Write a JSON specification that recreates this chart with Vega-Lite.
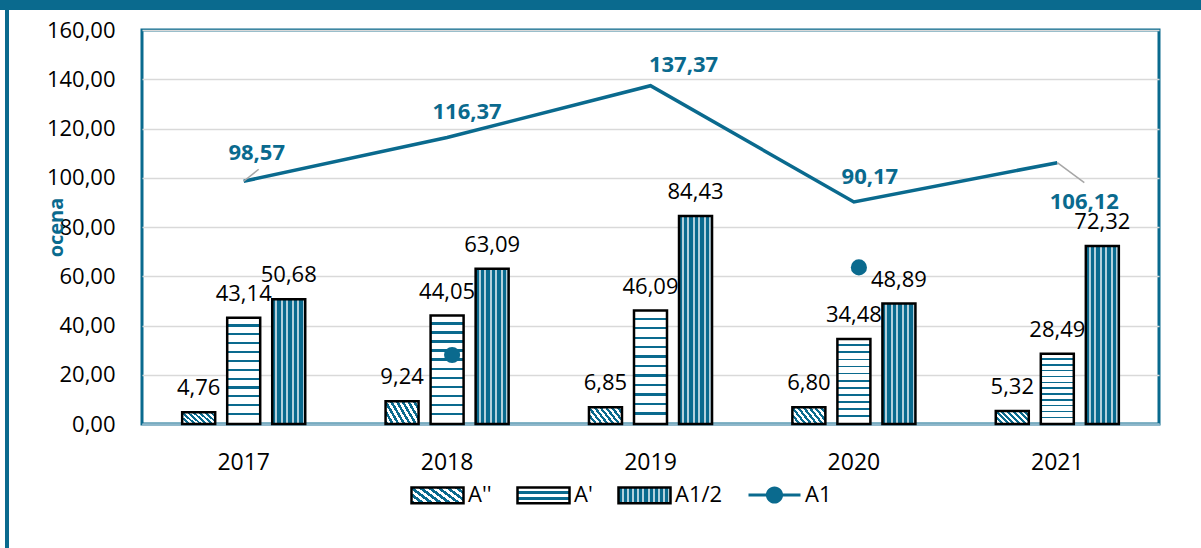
{
  "$schema": "https://vega.github.io/schema/vega-lite/v6.json",
  "padding": 0,
  "background": "white",
  "spacing": 0,
  "config": {
    "locale": {"number": {"decimal": ",", "thousands": " ", "grouping": [3], "currency": ["", " zł"]}},
    "font": "Open Sans",
    "view": {"stroke": null}
  },
  "datasets": {
    "frame": [{"k": 1}],
    "bars": [
      {"year": "2017", "series": "A''", "value": 4.76},
      {"year": "2017", "series": "A'", "value": 43.14},
      {"year": "2017", "series": "A1/2", "value": 50.68},
      {"year": "2018", "series": "A''", "value": 9.24},
      {"year": "2018", "series": "A'", "value": 44.05},
      {"year": "2018", "series": "A1/2", "value": 63.09},
      {"year": "2019", "series": "A''", "value": 6.85},
      {"year": "2019", "series": "A'", "value": 46.09},
      {"year": "2019", "series": "A1/2", "value": 84.43},
      {"year": "2020", "series": "A''", "value": 6.80},
      {"year": "2020", "series": "A'", "value": 34.48},
      {"year": "2020", "series": "A1/2", "value": 48.89},
      {"year": "2021", "series": "A''", "value": 5.32},
      {"year": "2021", "series": "A'", "value": 28.49},
      {"year": "2021", "series": "A1/2", "value": 72.32}
    ],
    "a1": [
      {"year": "2017", "value": 98.57},
      {"year": "2018", "value": 116.37},
      {"year": "2019", "value": 137.37},
      {"year": "2020", "value": 90.17},
      {"year": "2021", "value": 106.12}
    ],
    "markers": [
      {"year": "2018", "value": 28.0},
      {"year": "2020", "value": 63.6}
    ]
  },
  "vconcat": [
    {
      "width": 1201, "height": 10,
      "view": {"fill": "#0a6a8e", "stroke": null},
      "data": {"name": "frame"},
      "mark": {"type": "text", "fontSize": 0},
      "encoding": {"text": {"value": ""}}
    },
    {
      "spacing": 0,
      "resolve": {"scale": {"stroke": "independent"}, "legend": {"stroke": "independent"}},
      "hconcat": [
        {
          "width": 5, "height": 538,
          "data": {"name": "frame"},
          "mark": {"type": "text", "fontSize": 0},
          "encoding": {"text": {"value": ""}}
        },
        {
          "spacing": 35,
          "resolve": {"scale": {"stroke": "independent"}, "legend": {"stroke": "independent"}},
          "hconcat": [
            {
              "width": 4, "height": 538,
              "view": {"fill": "#0a6a8e", "stroke": null},
              "data": {"name": "frame"},
              "mark": {"type": "text", "fontSize": 0},
              "encoding": {"text": {"value": ""}}
            },
            {
              "spacing": 0,
              "resolve": {"scale": {"stroke": "independent"}, "legend": {"stroke": "independent"}},
              "vconcat": [
                {
                  "width": 1, "height": 7,
                  "data": {"name": "frame"},
                  "mark": {"type": "text", "fontSize": 0},
                  "encoding": {"text": {"value": ""}}
                },
                {
                  "width": 1017, "height": 394,
                  "view": {"stroke": "#0a6a8e", "strokeWidth": 3},
                  "layer": [
                    {
                      "data": {"name": "bars"},
                      "mark": {"type": "bar", "stroke": "#000000", "strokeWidth": 2.5},
                      "encoding": {
                        "x": {
                          "field": "year", "type": "nominal",
                          "scale": {"paddingInner": 0.395, "paddingOuter": 0.1975},
                          "axis": {
                            "title": null, "labelAngle": 0, "labelFontSize": 23, "labelColor": "#000000",
                            "ticks": false, "labelPadding": 27, "domainColor": "#8db7cb", "domainWidth": 2.5, "grid": false
                          }
                        },
                        "xOffset": {
                          "field": "series", "type": "nominal",
                          "scale": {"domain": ["A''", "A'", "A1/2"], "paddingInner": 0.267, "paddingOuter": 0}
                        },
                        "y": {
                          "field": "value", "type": "quantitative",
                          "scale": {"domain": [0, 160]},
                          "axis": {
                            "title": "ocena", "titleFontWeight": "bold", "titleFontSize": 20, "titleColor": "#0a6a8e",
                            "titleX": -86, "titleBaseline": "middle",
                            "values": [0, 20, 40, 60, 80, 100, 120, 140, 160], "format": ".2f",
                            "labelFontSize": 22, "labelColor": "#000000", "labelPadding": 27,
                            "ticks": false, "domain": false, "gridColor": "#d9d9d9", "gridWidth": 1.5
                          }
                        },
                        "fill": {
                          "condition": [
                            {"test": "datum.series === \"A'\"", "value": {"gradient": "linear", "x1": 0, "y1": 0, "x2": 0, "y2": 1, "stops": [
                                {"offset": 0, "color": "#ffffff"}, {"offset": 0.0625, "color": "#ffffff"}, {"offset": 0.0625, "color": "#0a6a8e"}, {"offset": 0.0833, "color": "#0a6a8e"},
                                {"offset": 0.0833, "color": "#ffffff"}, {"offset": 0.1458, "color": "#ffffff"}, {"offset": 0.1458, "color": "#0a6a8e"}, {"offset": 0.1667, "color": "#0a6a8e"},
                                {"offset": 0.1667, "color": "#ffffff"}, {"offset": 0.2292, "color": "#ffffff"}, {"offset": 0.2292, "color": "#0a6a8e"}, {"offset": 0.25, "color": "#0a6a8e"},
                                {"offset": 0.25, "color": "#ffffff"}, {"offset": 0.3125, "color": "#ffffff"}, {"offset": 0.3125, "color": "#0a6a8e"}, {"offset": 0.3333, "color": "#0a6a8e"},
                                {"offset": 0.3333, "color": "#ffffff"}, {"offset": 0.3958, "color": "#ffffff"}, {"offset": 0.3958, "color": "#0a6a8e"}, {"offset": 0.4167, "color": "#0a6a8e"},
                                {"offset": 0.4167, "color": "#ffffff"}, {"offset": 0.4792, "color": "#ffffff"}, {"offset": 0.4792, "color": "#0a6a8e"}, {"offset": 0.5, "color": "#0a6a8e"},
                                {"offset": 0.5, "color": "#ffffff"}, {"offset": 0.5625, "color": "#ffffff"}, {"offset": 0.5625, "color": "#0a6a8e"}, {"offset": 0.5833, "color": "#0a6a8e"},
                                {"offset": 0.5833, "color": "#ffffff"}, {"offset": 0.6458, "color": "#ffffff"}, {"offset": 0.6458, "color": "#0a6a8e"}, {"offset": 0.6667, "color": "#0a6a8e"},
                                {"offset": 0.6667, "color": "#ffffff"}, {"offset": 0.7292, "color": "#ffffff"}, {"offset": 0.7292, "color": "#0a6a8e"}, {"offset": 0.75, "color": "#0a6a8e"},
                                {"offset": 0.75, "color": "#ffffff"}, {"offset": 0.8125, "color": "#ffffff"}, {"offset": 0.8125, "color": "#0a6a8e"}, {"offset": 0.8333, "color": "#0a6a8e"},
                                {"offset": 0.8333, "color": "#ffffff"}, {"offset": 0.8958, "color": "#ffffff"}, {"offset": 0.8958, "color": "#0a6a8e"}, {"offset": 0.9167, "color": "#0a6a8e"},
                                {"offset": 0.9167, "color": "#ffffff"}, {"offset": 1, "color": "#ffffff"}
                              ]}},
                            {"test": "datum.series === 'A1/2'", "value": {"gradient": "linear", "x1": 0, "y1": 0, "x2": 1, "y2": 0, "stops": [
                                {"offset": 0, "color": "#0a6a8e"}, {"offset": 0.09, "color": "#0a6a8e"}, {"offset": 0.09, "color": "#b3d0dc"}, {"offset": 0.15, "color": "#b3d0dc"},
                                {"offset": 0.15, "color": "#0a6a8e"}, {"offset": 0.2567, "color": "#0a6a8e"}, {"offset": 0.2567, "color": "#b3d0dc"}, {"offset": 0.3167, "color": "#b3d0dc"},
                                {"offset": 0.3167, "color": "#0a6a8e"}, {"offset": 0.4233, "color": "#0a6a8e"}, {"offset": 0.4233, "color": "#b3d0dc"}, {"offset": 0.4833, "color": "#b3d0dc"},
                                {"offset": 0.4833, "color": "#0a6a8e"}, {"offset": 0.59, "color": "#0a6a8e"}, {"offset": 0.59, "color": "#b3d0dc"}, {"offset": 0.65, "color": "#b3d0dc"},
                                {"offset": 0.65, "color": "#0a6a8e"}, {"offset": 0.7567, "color": "#0a6a8e"}, {"offset": 0.7567, "color": "#b3d0dc"}, {"offset": 0.8167, "color": "#b3d0dc"},
                                {"offset": 0.8167, "color": "#0a6a8e"}, {"offset": 0.9233, "color": "#0a6a8e"}, {"offset": 0.9233, "color": "#b3d0dc"}, {"offset": 0.9833, "color": "#b3d0dc"},
                                {"offset": 0.9833, "color": "#0a6a8e"}, {"offset": 1, "color": "#0a6a8e"}
                              ]}}
                          ],
                          "value": {"gradient": "linear", "x1": 0, "y1": 1, "x2": 1.2, "y2": 0.52, "stops": [
                                {"offset": 0, "color": "#0a6a8e"}, {"offset": 0.0625, "color": "#0a6a8e"}, {"offset": 0.0625, "color": "#ffffff"}, {"offset": 0.125, "color": "#ffffff"},
                                {"offset": 0.125, "color": "#0a6a8e"}, {"offset": 0.1875, "color": "#0a6a8e"}, {"offset": 0.1875, "color": "#ffffff"}, {"offset": 0.25, "color": "#ffffff"},
                                {"offset": 0.25, "color": "#0a6a8e"}, {"offset": 0.3125, "color": "#0a6a8e"}, {"offset": 0.3125, "color": "#ffffff"}, {"offset": 0.375, "color": "#ffffff"},
                                {"offset": 0.375, "color": "#0a6a8e"}, {"offset": 0.4375, "color": "#0a6a8e"}, {"offset": 0.4375, "color": "#ffffff"}, {"offset": 0.5, "color": "#ffffff"},
                                {"offset": 0.5, "color": "#0a6a8e"}, {"offset": 0.5625, "color": "#0a6a8e"}, {"offset": 0.5625, "color": "#ffffff"}, {"offset": 0.625, "color": "#ffffff"},
                                {"offset": 0.625, "color": "#0a6a8e"}, {"offset": 0.6875, "color": "#0a6a8e"}, {"offset": 0.6875, "color": "#ffffff"}, {"offset": 0.75, "color": "#ffffff"},
                                {"offset": 0.75, "color": "#0a6a8e"}, {"offset": 0.8125, "color": "#0a6a8e"}, {"offset": 0.8125, "color": "#ffffff"}, {"offset": 0.875, "color": "#ffffff"},
                                {"offset": 0.875, "color": "#0a6a8e"}, {"offset": 0.9375, "color": "#0a6a8e"}, {"offset": 0.9375, "color": "#ffffff"}, {"offset": 1, "color": "#ffffff"}
                              ]}
                        }
                      }
                    },
                    {
                      "data": {"name": "bars"},
                      "mark": {
                        "type": "point", "opacity": 0, "filled": true,
                        "shape": {"expr": "datum.value === 'A1' ? 'M-1,-0.06H1V0.06H-1Z M0.33,0A0.33,0.33 0 1 1 -0.33,0A0.33,0.33 0 1 1 0.33,0Z' : 'M-1,-0.3H1V0.3H-1Z'"},
                        "fill": {"expr": "datum.value === \"A'\" ? {gradient:'linear',x1:0,y1:0,x2:0,y2:1,stops:[{offset:0,color:'#ffffff'},{offset:0.25,color:'#ffffff'},{offset:0.25,color:'#0a6a8e'},{offset:0.42,color:'#0a6a8e'},{offset:0.42,color:'#ffffff'},{offset:0.62,color:'#ffffff'},{offset:0.62,color:'#0a6a8e'},{offset:0.8,color:'#0a6a8e'},{offset:0.8,color:'#ffffff'},{offset:1,color:'#ffffff'}]} : datum.value === 'A1/2' ? {gradient:'linear',x1:0,y1:0,x2:1,y2:0,stops:[{offset:0,color:'#0a6a8e'},{offset:0.06,color:'#0a6a8e'},{offset:0.06,color:'#b3d0dc'},{offset:0.1,color:'#b3d0dc'},{offset:0.1,color:'#0a6a8e'},{offset:0.16,color:'#0a6a8e'},{offset:0.16,color:'#b3d0dc'},{offset:0.2,color:'#b3d0dc'},{offset:0.2,color:'#0a6a8e'},{offset:0.26,color:'#0a6a8e'},{offset:0.26,color:'#b3d0dc'},{offset:0.3,color:'#b3d0dc'},{offset:0.3,color:'#0a6a8e'},{offset:0.36,color:'#0a6a8e'},{offset:0.36,color:'#b3d0dc'},{offset:0.4,color:'#b3d0dc'},{offset:0.4,color:'#0a6a8e'},{offset:0.46,color:'#0a6a8e'},{offset:0.46,color:'#b3d0dc'},{offset:0.5,color:'#b3d0dc'},{offset:0.5,color:'#0a6a8e'},{offset:0.56,color:'#0a6a8e'},{offset:0.56,color:'#b3d0dc'},{offset:0.6,color:'#b3d0dc'},{offset:0.6,color:'#0a6a8e'},{offset:0.66,color:'#0a6a8e'},{offset:0.66,color:'#b3d0dc'},{offset:0.7,color:'#b3d0dc'},{offset:0.7,color:'#0a6a8e'},{offset:0.76,color:'#0a6a8e'},{offset:0.76,color:'#b3d0dc'},{offset:0.8,color:'#b3d0dc'},{offset:0.8,color:'#0a6a8e'},{offset:0.86,color:'#0a6a8e'},{offset:0.86,color:'#b3d0dc'},{offset:0.9,color:'#b3d0dc'},{offset:0.9,color:'#0a6a8e'},{offset:0.96,color:'#0a6a8e'},{offset:0.96,color:'#b3d0dc'},{offset:1,color:'#b3d0dc'}]} : datum.value === 'A1' ? '#0a6a8e' : {gradient:'linear',x1:0,y1:1,x2:1.2,y2:0.52,stops:[{offset:0,color:'#0a6a8e'},{offset:0.0625,color:'#0a6a8e'},{offset:0.0625,color:'#ffffff'},{offset:0.125,color:'#ffffff'},{offset:0.125,color:'#0a6a8e'},{offset:0.1875,color:'#0a6a8e'},{offset:0.1875,color:'#ffffff'},{offset:0.25,color:'#ffffff'},{offset:0.25,color:'#0a6a8e'},{offset:0.3125,color:'#0a6a8e'},{offset:0.3125,color:'#ffffff'},{offset:0.375,color:'#ffffff'},{offset:0.375,color:'#0a6a8e'},{offset:0.4375,color:'#0a6a8e'},{offset:0.4375,color:'#ffffff'},{offset:0.5,color:'#ffffff'},{offset:0.5,color:'#0a6a8e'},{offset:0.5625,color:'#0a6a8e'},{offset:0.5625,color:'#ffffff'},{offset:0.625,color:'#ffffff'},{offset:0.625,color:'#0a6a8e'},{offset:0.6875,color:'#0a6a8e'},{offset:0.6875,color:'#ffffff'},{offset:0.75,color:'#ffffff'},{offset:0.75,color:'#0a6a8e'},{offset:0.8125,color:'#0a6a8e'},{offset:0.8125,color:'#ffffff'},{offset:0.875,color:'#ffffff'},{offset:0.875,color:'#0a6a8e'},{offset:0.9375,color:'#0a6a8e'},{offset:0.9375,color:'#ffffff'},{offset:1,color:'#ffffff'}]}"}
                      },
                      "encoding": {
                        "x": {"field": "year", "type": "nominal"},
                        "xOffset": {"field": "series", "type": "nominal"},
                        "y": {"field": "value", "type": "quantitative"},
                        "stroke": {
                          "field": "series", "type": "nominal",
                          "scale": {"domain": ["A''", "A'", "A1/2", "A1"], "range": ["#000000", "#000000", "#000000", "transparent"]},
                          "legend": {
                            "orient": "none", "legendX": 268, "legendY": 437, "direction": "horizontal", "columns": 4,
                            "title": null, "padding": 0, "symbolSize": 2704, "symbolOpacity": 1, "symbolStrokeWidth": 2.5,
                            "labelFontSize": 22, "labelColor": "#000000",
                            "labelOffset": 3, "columnPadding": 20
                          }
                        }
                      }
                    },
                    {
                      "data": {"name": "bars"},
                      "mark": {"type": "text", "fontSize": 22, "color": "#000000", "baseline": "alphabetic", "dy": -17},
                      "encoding": {
                        "x": {"field": "year", "type": "nominal"},
                        "xOffset": {"field": "series", "type": "nominal"},
                        "y": {"field": "value", "type": "quantitative"},
                        "text": {"field": "value", "type": "quantitative", "format": ".2f"}
                      }
                    },
                    {
                      "data": {"name": "a1"},
                      "mark": {"type": "line", "color": "#0a6a8e", "strokeWidth": 3.5},
                      "encoding": {
                        "x": {"field": "year", "type": "nominal"},
                        "y": {"field": "value", "type": "quantitative"}
                      }
                    },
                    {
                      "data": {"name": "a1"},
                      "transform": [{"filter": "datum.year === '2017' || datum.year === '2021'"}],
                      "mark": {
                        "type": "rule", "color": "#a6a6a6", "strokeWidth": 1.5,
                        "x2Offset": {"expr": "datum.year === '2017' ? 15 : 27"},
                        "y2Offset": {"expr": "datum.year === '2017' ? -12 : 20"}
                      },
                      "encoding": {
                        "x": {"field": "year", "type": "nominal"},
                        "y": {"field": "value", "type": "quantitative"},
                        "x2": {"field": "year"},
                        "y2": {"field": "value"}
                      }
                    },
                    {
                      "data": {"name": "a1"},
                      "mark": {
                        "type": "text", "fontSize": 22, "fontWeight": "bold", "color": "#0a6a8e", "baseline": "alphabetic",
                        "dx": {"expr": "datum.year === '2017' ? 13 : datum.year === '2018' ? 20 : datum.year === '2019' ? 33 : datum.year === '2020' ? 16 : 27"},
                        "dy": {"expr": "datum.year === '2017' ? -21.5 : datum.year === '2018' ? -18.5 : datum.year === '2019' ? -13.5 : datum.year === '2020' ? -17.5 : 46.5"}
                      },
                      "encoding": {
                        "x": {"field": "year", "type": "nominal"},
                        "y": {"field": "value", "type": "quantitative"},
                        "text": {"field": "value", "type": "quantitative", "format": ".2f"}
                      }
                    },
                    {
                      "data": {"name": "markers"},
                      "mark": {"type": "circle", "color": "#0a6a8e", "opacity": 1, "size": 260, "xOffset": 5},
                      "encoding": {
                        "x": {"field": "year", "type": "nominal"},
                        "y": {"field": "value", "type": "quantitative"}
                      }
                    }
                  ]
                }
              ]
            }
          ]
        }
      ]
    }
  ]
}
